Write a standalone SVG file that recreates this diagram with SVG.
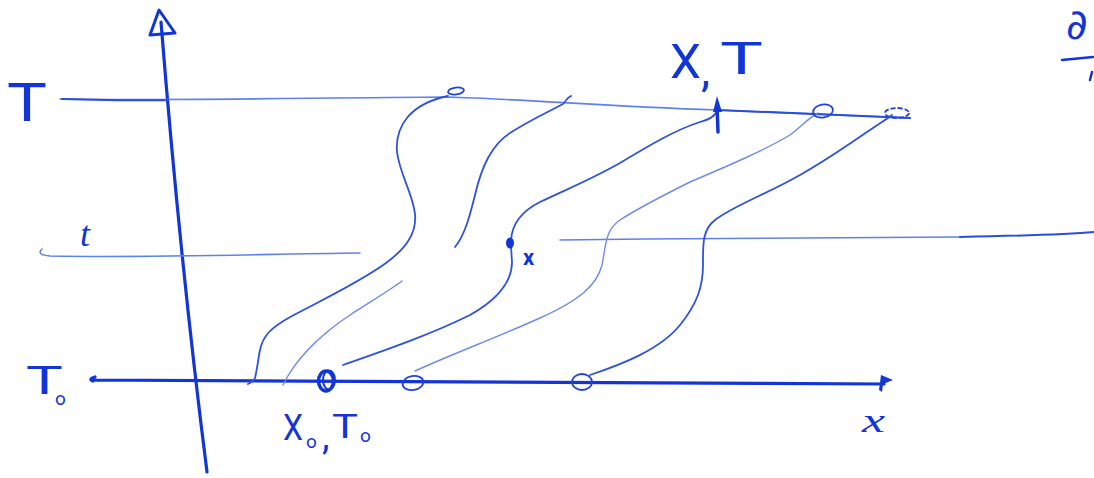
<svg xmlns="http://www.w3.org/2000/svg" width="1094" height="478" viewBox="0 0 1094 478">
<style>
.bg{fill:#ffffff}
.ink{fill:none;stroke:#1236d6;stroke-linecap:round;stroke-linejoin:round}
.axis{stroke-width:3.2}
.lvl{stroke:#5f82ea;stroke-width:1.6}
.lvld{stroke:#2a4ddc;stroke-width:2}
.traj{stroke:#2f52de;stroke-width:1.8}
.trajl{stroke:#6d8cec;stroke-width:1.4}
.pt{fill:none;stroke:#1f44da;stroke-width:1.8}
.fillink{fill:#1236d6;stroke:none}
.lab{fill:#1236d6;font-family:Roboto,"Liberation Sans",Arial,sans-serif;font-weight:400}
.ital{fill:#1236d6;font-family:"Liberation Serif","Times New Roman",serif;font-style:italic}
</style>
<rect class="bg" x="0" y="0" width="1094" height="478"/>

<g id="axes">
  <path class="ink axis" d="M207,472 Q180,260 161,22"/>
  <path class="ink" stroke-width="3" d="M150,35 L175,33 L159,10 Z"/>
  <path class="ink axis" d="M95,377 Q88,379 93,381 M92,380 C300,383 600,382 884,384"/>
  <path class="fillink" d="M881,375 L893,380 L883,384 L882,392 L879,390 Z"/>
</g>

<g id="levels">
  <path class="ink lvl" d="M60,99 C150,101 300,98 447,97 C520,99 600,106 717,110 C800,113 860,116 910,118"/>
  <path class="ink lvld" d="M62,99 C100,100 140,101 168,100 M717,110 C800,113 860,116 910,118"/>
  <path class="ink lvl" d="M42,249 Q36,255 50,256 C150,258 260,254 360,253"/>
  <path class="ink lvl" d="M560,240 C700,238 850,238 960,237"/>
  <path class="ink lvld" d="M960,237 C1010,236 1060,235 1094,232"/>
</g>

<g id="connectors">
  <path class="ink traj" d="M248,384 Q254,381 255,378 C257,370 258,360 260,350 C263,336 270,328 292,316 C322,300 360,282 386,263 C405,249 417,234 415,214 C413,194 400,175 397,152 C395,126 410,104 448,96"/>
  <path class="ink trajl" d="M283,385 C295,360 320,335 350,315 C370,302 390,290 402,281"/>
  <path class="ink traj" d="M455,247 C465,235 470,215 475,195 C482,165 492,145 510,133 C530,120 552,110 563,104 L568,98 L571,96"/>
  <path class="ink traj" d="M343,365 C380,352 430,335 470,315 C500,298 512,280 512,262 L511,246"/>
  <path class="ink traj" d="M511,240 C512,225 520,212 540,202 C565,190 590,180 620,163 C650,145 675,130 700,122 C710,119 714,117 717,111"/>
  <path class="ink trajl" d="M415,371 C450,355 500,336 540,318 C580,300 597,285 602,265 C606,245 605,230 620,220 C640,207 660,197 690,182 C730,165 765,150 790,135 C800,128 808,118 818,113"/>
  <path class="ink traj" d="M590,375 C620,365 660,350 680,325 C698,303 703,285 703,265 C703,245 702,230 715,220 C735,205 765,195 800,175 C830,158 855,140 870,130 C880,123 887,119 892,115"/>
</g>

<g id="node-T">
  <text class="lab" x="7" y="121" font-size="53" textLength="40" lengthAdjust="spacingAndGlyphs">T</text>
</g>
<g id="node-t">
  <text class="ital" x="80" y="246" font-size="36">t</text>
</g>
<g id="node-T0">
  <text class="lab" x="26" y="394" font-size="38" textLength="37" lengthAdjust="spacingAndGlyphs">T</text>
  <text class="lab" x="55" y="405" font-size="19">o</text>
</g>

<g id="node-start1">
  <ellipse class="pt" cx="456" cy="91" rx="8" ry="3.5" transform="rotate(-8 456 91)"/>
</g>
<g id="node-X0T0">
  <ellipse class="ink" stroke-width="3.5" cx="326" cy="381" rx="7.5" ry="10"/>
  <ellipse class="ink" stroke-width="2" cx="329" cy="380" rx="6" ry="9.5"/>
  <text class="lab" x="283" y="440" font-size="37" textLength="20" lengthAdjust="spacingAndGlyphs">X</text>
  <text class="lab" x="306" y="448" font-size="19">o</text>
  <text class="lab" x="322" y="449" font-size="38">,</text>
  <text class="lab" x="332" y="438" font-size="34" textLength="26" lengthAdjust="spacingAndGlyphs">T</text>
  <text class="lab" x="360" y="442" font-size="19">o</text>
</g>
<g id="node-p4">
  <ellipse class="pt" cx="413" cy="383" rx="10.5" ry="7" transform="rotate(-10 413 383)"/>
</g>
<g id="node-p5">
  <ellipse class="pt" cx="582" cy="382" rx="10" ry="8"/>
</g>
<g id="node-x">
  <ellipse class="fillink" cx="510" cy="243" rx="4" ry="5.5"/>
  <text class="lab" x="523" y="265" font-size="22" style="font-weight:bold">x</text>
</g>
<g id="node-XT">
  <path class="ink" stroke-width="3.5" d="M718,132 L717,106"/>
  <path class="fillink" d="M713,112 L717,96 L722,112 Z"/>
  <text class="lab" x="670" y="78" font-size="48" textLength="31" lengthAdjust="spacingAndGlyphs">X</text>
  <text class="lab" x="701" y="86" font-size="46">,</text>
  <text class="lab" x="720" y="74" font-size="44" textLength="43" lengthAdjust="spacingAndGlyphs">T</text>
</g>
<g id="node-end4">
  <ellipse class="pt" cx="823" cy="111" rx="10" ry="6.5" transform="rotate(-10 823 111)"/>
</g>
<g id="node-end5">
  <ellipse class="pt" cx="897" cy="113" rx="12" ry="5" stroke-dasharray="5 2"/>
</g>
<g id="node-xaxis">
  <text class="ital" x="862" y="432" font-size="34" textLength="23" lengthAdjust="spacingAndGlyphs">x</text>
</g>
<g id="node-partial">
  <text x="1066" y="39" font-size="42" fill="#1236d6" font-family="DejaVu Sans, sans-serif">∂</text>
  <path class="ink" stroke-width="2.5" d="M1062,60 L1093,57 M1092,72 L1090,80"/>
</g>
</svg>
